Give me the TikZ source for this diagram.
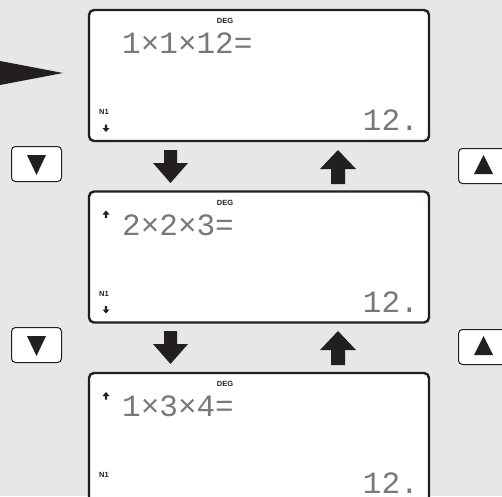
\documentclass[tikz,border=0pt]{standalone}
\usepackage{fontspec}
\setmainfont{Liberation Sans}
\newfontfamily\lcdfont{Liberation Mono}
\usetikzlibrary{positioning,calc}
\definecolor{cBG}{HTML}{E6E7E8}
\definecolor{cINK}{HTML}{231F20}
\definecolor{cLCD}{HTML}{77787B}

\begin{document}
\begin{tikzpicture}[x=1pt, y=-1pt,
  screen/.style={draw=cINK, line width=2.4pt, fill=white, rounded corners=5pt, minimum width=340pt, minimum height=131pt, inner sep=0pt},
  keycap/.style={draw=cINK, line width=1pt, fill=white, rounded corners=4pt, minimum width=50pt, minimum height=35pt, inner sep=0pt},
  lcd/.style={text=cLCD, font=\lcdfont\fontsize{31}{31}\selectfont, inner sep=0pt, text depth=0pt},
  flag/.style={text=cINK, font=\bfseries\fontsize{7.5}{7.5}\selectfont, inner sep=0pt},
  blockdown/.pic={\fill[cINK] (-6.5,0) -- (6.5,0) -- (6.5,13) -- (17.5,13) -- (0,33) -- (-17.5,13) -- (-6.5,13) -- cycle;},
  blockup/.pic={\fill[cINK] (0,0) -- (18,19) -- (7,19) -- (7,34) -- (-7,34) -- (-7,19) -- (-18,19) -- cycle;},
  smalldown/.pic={\fill[cINK] (-1.2,0) -- (1.2,0) -- (1.2,3.5) -- (3.5,3.5) -- (0,7.5) -- (-3.5,3.5) -- (-1.2,3.5) -- cycle;},
  smallup/.pic={\fill[cINK] (0,0) -- (3.5,4) -- (1.2,4) -- (1.2,7.5) -- (-1.2,7.5) -- (-1.2,4) -- (-3.5,4) -- cycle;}]
\useasboundingbox (0,0) rectangle (502,496);
\clip (0,0) rectangle (502,496);
\fill[cBG] (0,0) rectangle (502,496);

% pointer into the first screen
\fill[cINK] (-2,60.6) -- (63,73) -- (-2,85.4) -- cycle;

% screens
\node[screen] (s1) at (259,75.5) {};
\node[screen] (s2) at (259,257) {};
\node[screen] (s3) at (259,438.5) {};

\node[flag] (deg1) at (225,21) {DEG};
\node[lcd, anchor=base west] (in1) at (122,53) {1×1×12=};
\node[flag, anchor=base west] (nA) at (99,114.5) {N1};
\node[lcd, anchor=base east] (out1) at (419,130) {12.};
\pic at (106,124.5) {smalldown};

\node[flag] (deg2) at (225,203) {DEG};
\node[lcd, anchor=base west] (in2) at (122,235) {2×2×3=};
\node[flag, anchor=base west] (nB) at (99,296) {N1};
\node[lcd, anchor=base east] (out2) at (419,312) {12.};
\pic at (106,210.5) {smallup};
\pic at (106,306) {smalldown};

\node[flag] (deg3) at (225,384) {DEG};
\node[lcd, anchor=base west] (in3) at (122,416) {1×3×4=};
\node[flag, anchor=base west] (nC) at (99,477.5) {N1};
\node[lcd, anchor=base east] (out3) at (419,493) {12.};
\pic at (106,392) {smallup};

% scrolling arrows
\pic at (170.5,150) {blockdown};
\pic at (170.5,331) {blockdown};
\pic at (338,150) {blockup};
\pic at (338,331) {blockup};

% keys
\node[keycap] (kdn1) at (36.5,164) {};
\node[keycap] (kdn2) at (36.5,345) {};
\node[keycap] (kup1) at (483.5,166) {};
\node[keycap] (kup2) at (483.5,347) {};
\foreach \k in {kdn1,kdn2}
  \fill[cINK] ([shift={(-9.5,-9)}]\k.center) -- ([shift={(9.5,-9)}]\k.center) -- ([shift={(0,11)}]\k.center) -- cycle;
\foreach \k in {kup1,kup2}
  \fill[cINK] ([shift={(0,-11)}]\k.center) -- ([shift={(9.5,8)}]\k.center) -- ([shift={(-9.5,8)}]\k.center) -- cycle;
\end{tikzpicture}
\end{document}
